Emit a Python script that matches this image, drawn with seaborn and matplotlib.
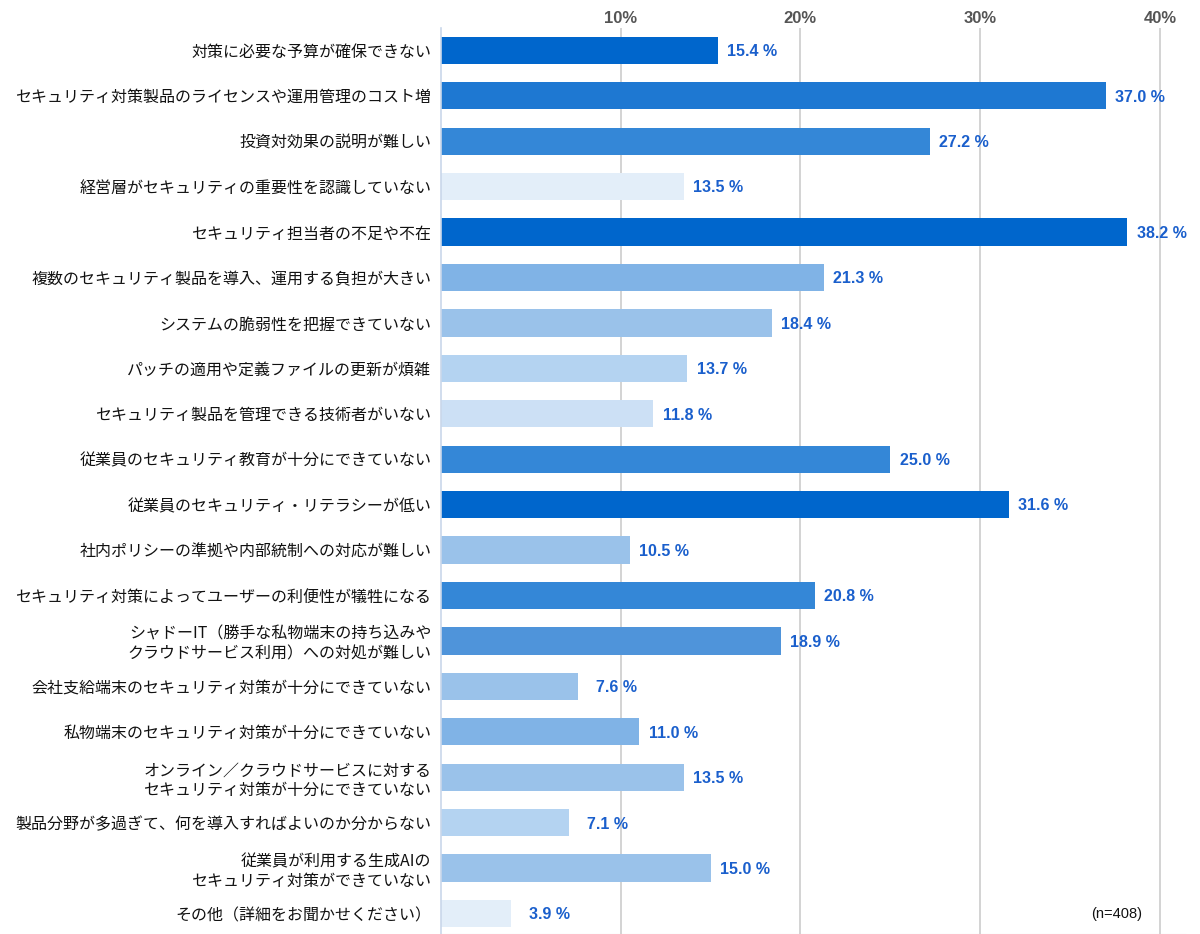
import matplotlib
matplotlib.use('Agg')
import matplotlib.pyplot as plt
import seaborn as sns
import pandas as pd


# Data
categories = [
    '対策に必要な予算が確保できない',
    'セキュリティ対策製品のライセンスや運用管理のコスト増',
    '投資対効果の説明が難しい',
    '経営層がセキュリティの重要性を認識していない',
    'セキュリティ担当者の不足や不在',
    '複数のセキュリティ製品を導入、運用する負担が大きい',
    'システムの脆弱性を把握できていない',
    'パッチの適用や定義ファイルの更新が煩雑',
    'セキュリティ製品を管理できる技術者がいない',
    '従業員のセキュリティ教育が十分にできていない',
    '従業員のセキュリティ・リテラシーが低い',
    '社内ポリシーの準拠や内部統制への対応が難しい',
    'セキュリティ対策によってユーザーの利便性が犠牲になる',
    'シャドーIT（勝手な私物端末の持ち込みや\nクラウドサービス利用）への対処が難しい',
    '会社支給端末のセキュリティ対策が十分にできていない',
    '私物端末のセキュリティ対策が十分にできていない',
    'オンライン／クラウドサービスに対する\nセキュリティ対策が十分にできていない',
    '製品分野が多過ぎて、何を導入すればよいのか分からない',
    '従業員が利用する生成AIの\nセキュリティ対策ができていない',
    'その他（詳細をお聞かせください）',
]
values = [15.4, 37.0, 27.2, 13.5, 38.2, 21.3, 18.4, 13.7, 11.8, 25.0,
          31.6, 10.5, 20.8, 18.9, 7.6, 11.0, 13.5, 7.1, 15.0, 3.9]
bar_colors = ['#0066CC', '#1E78D2', '#3487D7', '#E3EEF9', '#0066CC',
              '#80B3E6', '#9AC2EA', '#B4D3F1', '#CCE0F5', '#3487D7',
              '#0066CC', '#9AC2EA', '#3487D7', '#4F94DA', '#9AC2EA',
              '#80B3E6', '#9AC2EA', '#B4D3F1', '#9AC2EA', '#E3EEF9']
xticks = [10, 20, 30, 40]
n_note = '(n=408)'

df = pd.DataFrame({'item': categories, 'pct': values})


sns.set_style('white')
plt.rcParams['font.family'] = ['Noto Sans CJK JP', 'DejaVu Sans']

fig = plt.figure(figsize=(12, 9.34), dpi=100)
ax = fig.add_axes([0.3675, 0.0, 0.62, 0.9705])

sns.barplot(data=df, x='pct', y='item', hue='item', palette=bar_colors,
            saturation=1, legend=False, width=0.6, orient='h', ax=ax,
            linewidth=0.0)

ax.set_xlim(0, 41.4)
ax.set_ylim(19.45, -0.5)
ax.set_xlabel('')
ax.set_ylabel('')

# x axis on top, bold grey ticks
ax.xaxis.tick_top()
ax.set_xticks(xticks)
ax.set_xticklabels([f'{t}%' for t in xticks], family='Liberation Sans',
                   fontweight='bold', fontsize=12, color='#555555')
ax.tick_params(axis='x', length=0, pad=1)
ax.grid(axis='x', color='#CCCCCC', linewidth=1.2)
ax.set_axisbelow(True)

# y labels and small separators between rows
ax.tick_params(axis='y', which='major', length=0, pad=7, labelsize=11.5,
               labelcolor='#111111')
ax.set_yticks([i + 0.5 for i in range(len(categories) - 1)], minor=True)
ax.tick_params(axis='y', which='minor', length=5, width=1, color='#C9D7EA')

for side in ['top', 'right']:
    ax.spines[side].set_visible(False)
ax.spines['left'].set_color('#C9D7EA')
ax.spines['left'].set_linewidth(1.2)
ax.spines['bottom'].set_color('#DDDDDD')

# value labels, right-aligned a fixed distance past the bar end
for i, v in enumerate(values):
    ax.text(v + 3.3, i + 0.03, f'{v:.1f} %', va='center', ha='right',
            family='Liberation Sans', fontweight='bold', fontsize=11.5,
            color='#1A5FCC')

ax.text(39.0, 19, n_note, va='center', ha='right', fontsize=10.5,
        family='Liberation Sans', color='#111111')

fig.savefig('out.png', dpi=100)
